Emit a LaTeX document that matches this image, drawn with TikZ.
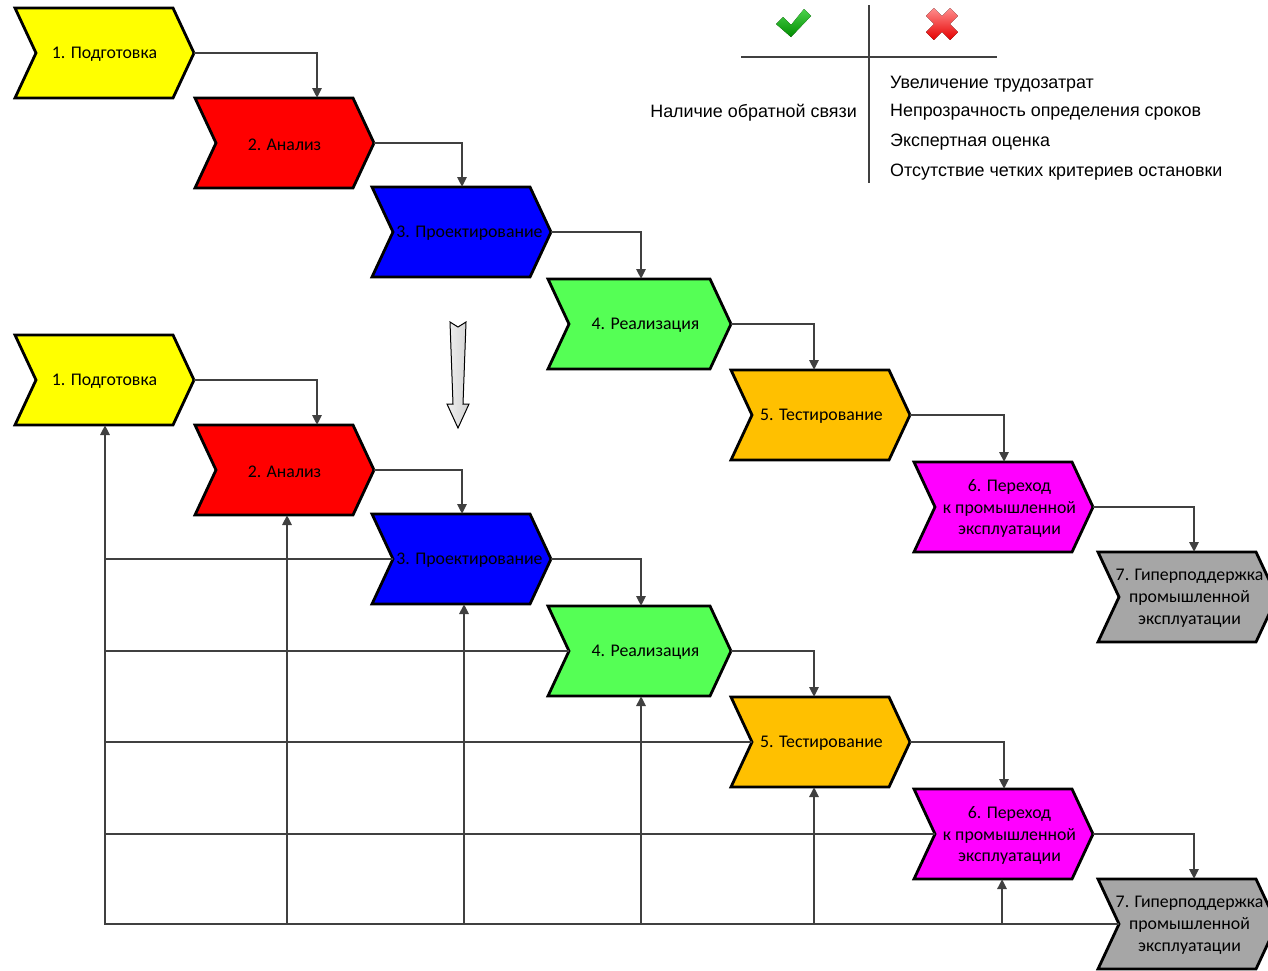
\documentclass[tikz,border=0pt]{standalone}
\usepackage{fontspec}
\setmainfont{Liberation Sans}
\newfontfamily\calib{Carlito}
\usetikzlibrary{arrows.meta}
\definecolor{ln}{HTML}{404040}
\definecolor{cyel}{HTML}{FFFF00}
\definecolor{cred}{HTML}{FF0000}
\definecolor{cblue}{HTML}{0000FF}
\definecolor{cgreen}{HTML}{55FF55}
\definecolor{corange}{HTML}{FFC000}
\definecolor{cmag}{HTML}{FF00FF}
\definecolor{cgray}{HTML}{A6A6A6}
\tikzset{
  chevline/.style={draw=black,line width=2.8pt,line join=miter},
  chevtext/.style={font=\calib\fontsize{17.8}{21.8}\selectfont,align=center,inner sep=0pt},
  conn/.style={draw=ln,line width=2.6pt,-{Triangle[length=10pt,width=9pt]}},
  fline/.style={draw=ln,line width=2.6pt},
  tabline/.style={draw=ln,line width=2.8pt},
  tabtext/.style={font=\fontsize{17.9}{21}\selectfont,inner sep=0pt}
}
% #1 name, #2 colour, #3 left, #4 top, #5 text dx, #6 x of incoming arrow, #7 x of feedback arrow, #8 text, #9 top edge length
\newcommand\chev[9]{%
  \filldraw[chevline,fill=#2] (#3,#4) -- ++(#9,0) -- ++(21,45) -- ++(-21,45) -- ++(-#9,0) -- ++(21,-45) -- cycle;
  \coordinate (#1-tip) at (#3+#9+21,#4+45);
  \coordinate (#1-notch) at (#3+21,#4+45);
  \coordinate (#1-in) at (#6,#4);
  \coordinate (#1-bot) at (#7,#4+90);
  \node[chevtext] (#1) at (#3+89.5+#5,#4+46.5) {#8};
}
\begin{document}
\begin{tikzpicture}[x=1pt,y=-1pt]
\useasboundingbox (0,0) rectangle (1268,970);
\clip (0,0) rectangle (1268,970);
% ---- top sequence
\chev{a1}{cyel}{15}{8}{0}{0}{105}{1. Подготовка}{158}
\chev{a2}{cred}{195}{98}{0}{317}{287}{2. Анализ}{158}
\chev{a3}{cblue}{372}{187}{8}{462}{464}{3. Проектирование}{158}
\chev{a4}{cgreen}{548}{279}{8}{641}{641}{4. Реализация}{162}
\chev{a5}{corange}{731}{370}{1}{814}{814}{5. Тестирование}{158}
\chev{a6}{cmag}{914}{462}{6}{1004}{1002}{6. Переход\\к промышленной\\эксплуатации}{158}
\chev{a7}{cgray}{1098}{552}{2}{1194}{1194}{7. Гиперподдержка\\промышленной\\эксплуатации}{158}
\draw[conn] (a1-tip) -| (a2-in);
\draw[conn] (a2-tip) -| (a3-in);
\draw[conn] (a3-tip) -| (a4-in);
\draw[conn] (a4-tip) -| (a5-in);
\draw[conn] (a5-tip) -| (a6-in);
\draw[conn] (a6-tip) -| (a7-in);
% ---- bottom sequence
\chev{b1}{cyel}{15}{335}{0}{0}{105}{1. Подготовка}{158}
\chev{b2}{cred}{195}{425}{0}{317}{287}{2. Анализ}{158}
\chev{b3}{cblue}{372}{514}{8}{462}{464}{3. Проектирование}{158}
\chev{b4}{cgreen}{548}{606}{8}{641}{641}{4. Реализация}{162}
\chev{b5}{corange}{731}{697}{1}{814}{814}{5. Тестирование}{158}
\chev{b6}{cmag}{914}{789}{6}{1004}{1002}{6. Переход\\к промышленной\\эксплуатации}{158}
\chev{b7}{cgray}{1098}{879}{2}{1194}{1194}{7. Гиперподдержка\\промышленной\\эксплуатации}{158}
\draw[conn] (b1-tip) -| (b2-in);
\draw[conn] (b2-tip) -| (b3-in);
\draw[conn] (b3-tip) -| (b4-in);
\draw[conn] (b4-tip) -| (b5-in);
\draw[conn] (b5-tip) -| (b6-in);
\draw[conn] (b6-tip) -| (b7-in);
% feedback
\draw[conn] (b7-notch) -| (b1-bot);
\foreach \k in {2,...,6}{
  \draw[conn] (b\k-bot |- b7-notch) -- (b\k-bot);
}
\foreach \k in {3,...,6}{
  \draw[fline] (b1-bot |- b\k-notch) -- (b\k-notch);
}
% grey transition arrow
\filldraw[draw=black,line width=1pt,left color=gray!12,right color=gray!35]
  (450,322) -- (458,327) -- (466,322) -- (463,404) -- (469,404) -- (458,428) -- (447,404) -- (453,404) -- cycle;
% ---- pros/cons table
\coordinate (vt) at (869,5);
\coordinate (vb) at (869,183);
\coordinate (hl) at (741,57);
\coordinate (hr) at (997,57);
\draw[tabline] (vt) -- (vb);
\draw[tabline] (hl) -- (hr);
% check mark
\fill[top color=green!75!black!70,bottom color=green!55!black] (776,24) -- (783,17) -- (791,25) -- (804,9) -- (811,16) -- (791,37) -- cycle;
% cross
\begin{scope}[shift={(942,24)},rotate=45]
\fill[top color=red!45,bottom color=red!90!black]
  (5.5,5.5) -- (5.5,17) -- (-5.5,17) -- (-5.5,5.5) -- (-17,5.5) -- (-17,-5.5) -- (-5.5,-5.5) -- (-5.5,-17) -- (5.5,-17) -- (5.5,-5.5) -- (17,-5.5) -- (17,5.5) -- cycle;
\end{scope}
\node[tabtext,anchor=east] (pro) at (857,112.5) {Наличие обратной связи};
\node[tabtext,anchor=west] (c1) at (890,84.5) {Увеличение трудозатрат};
\node[tabtext,anchor=west] (c2) at (890,112.5) {Непрозрачность определения сроков};
\node[tabtext,anchor=west] (c3) at (890,142.5) {Экспертная оценка};
\node[tabtext,anchor=west] (c4) at (890,172.5) {Отсутствие четких критериев остановки};
\end{tikzpicture}
\end{document}
